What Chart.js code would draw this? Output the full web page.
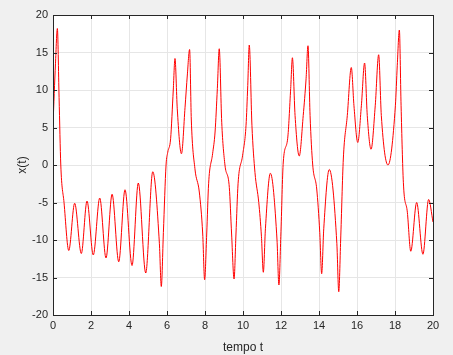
<!DOCTYPE html>
<html><head><meta charset="utf-8">
<script src="https://cdn.jsdelivr.net/npm/chart.js@4.4.0/dist/chart.umd.min.js"></script>
<style>html,body{margin:0;padding:0;background:#f0f0f0;}#wrap{width:453px;height:355px;}</style>
</head><body><div id="wrap"><canvas id="c" width="453" height="355"></canvas></div>
<script>
const times = [0,0.13,0.23,0.32,0.41,0.58,0.83,1.14,1.49,1.79,2.12,2.46,2.79,3.11,3.46,3.79,4.16,4.49,4.88,5.25,5.6,5.7,5.81,5.95,6.04,6.19,6.33,6.42,6.54,6.76,6.95,7.07,7.19,7.28,7.47,7.7,7.88,7.98,8.09,8.19,8.4,8.53,8.65,8.75,8.88,9.05,9.28,9.4,9.53,9.63,9.74,9.98,10.16,10.25,10.33,10.47,10.63,10.83,10.97,11.07,11.18,11.44,11.79,11.89,11.99,12.12,12.35,12.51,12.6,12.74,12.96,13.17,13.32,13.42,13.53,13.67,13.88,14.04,14.14,14.25,14.54,14.94,15.04,15.14,15.28,15.49,15.7,15.84,16.04,16.23,16.4,16.54,16.74,16.96,17.14,17.28,17.63,18.02,18.12,18.23,18.32,18.44,18.65,18.83,19.14,19.47,19.77,20];
const xValues = [5.3,13.5,18.2,9,0,-5,-11.4,-5.1,-11.8,-4.8,-12.0,-4.4,-12.4,-3.9,-12.9,-3.3,-13.4,-2.4,-14.4,-0.9,-10.5,-16.2,-9,0,1.7,3.5,10,14.2,7.5,1.5,7.7,12,15.4,6,-0.5,-3.6,-9.2,-15.3,-9.2,-2.5,1.5,4.4,10.2,15.5,5.7,0,-3,-9.2,-15.2,-9.2,-2.5,1.3,5.3,10.6,16.0,5.3,-1,-5,-9.5,-14.3,-8.5,-1.1,-10,-16.0,-9.5,0.4,3.5,10.2,14.3,6.6,1.2,6.6,11.5,15.9,6.6,0,-3.2,-9,-14.5,-8.5,-0.6,-10.5,-16.9,-10,0.8,6.6,13.0,7.9,3.0,7.9,13.6,6.6,2.1,7.9,14.7,6.6,0.0,7.9,13.3,18.0,7.9,-2.3,-6.3,-11.5,-5.0,-11.9,-4.6,-7.6];
const xTicks = [0,2,4,6,8,10,12,14,16,18,20];
const yTicks = [-20,-15,-10,-5,0,5,10,15,20];

const axisColor = '#262626';
const boxPlugin = {
  id:'box',
  beforeDraw(chart){
    const {ctx, chartArea:a} = chart;
    ctx.save();
    ctx.fillStyle='#ffffff';
    ctx.fillRect(a.left,a.top,a.right-a.left,a.bottom-a.top);
    ctx.restore();
  },
  afterDatasetsDraw(chart){
    const {ctx, chartArea:a, scales} = chart;
    ctx.save();
    ctx.strokeStyle=axisColor; ctx.lineWidth=1;
    ctx.beginPath();
    xTicks.forEach(v=>{const p=Math.round(scales.x.getPixelForValue(v))+0.5;
      ctx.moveTo(p,a.bottom);ctx.lineTo(p,a.bottom-4);ctx.moveTo(p,a.top);ctx.lineTo(p,a.top+4);});
    yTicks.forEach(v=>{const p=Math.round(scales.y.getPixelForValue(v))+0.5;
      ctx.moveTo(a.left,p);ctx.lineTo(a.left+4,p);ctx.moveTo(a.right,p);ctx.lineTo(a.right-4,p);});
    ctx.stroke();
    ctx.strokeRect(Math.round(a.left)+0.5,Math.round(a.top)+0.5,Math.round(a.right-a.left),Math.round(a.bottom-a.top));
    ctx.restore();
  }
};

new Chart(document.getElementById('c'),{
  type:'line',
  data:{datasets:[{data:times.map((t,i)=>({x:t,y:xValues[i]})),borderColor:'#ff0000',borderWidth:1,pointRadius:0,cubicInterpolationMode:'monotone',fill:false}]},
  options:{
    responsive:false,animation:false,
    layout:{padding:{top:15,right:20,left:15,bottom:0}},
    plugins:{legend:{display:false},tooltip:{enabled:false}},
    scales:{
      x:{type:'linear',min:0,max:20,
        afterBuildTicks(s){s.ticks=xTicks.map(v=>({value:v}));},
        afterFit(s){s.height=40;},
        grid:{color:'#e6e6e6',drawTicks:false},border:{display:false},
        ticks:{color:axisColor,font:{family:'Liberation Sans, Arial',size:11},padding:4,maxRotation:0},
        title:{display:true,text:'tempo t',color:axisColor,font:{family:'Liberation Sans, Arial',size:12},padding:{top:0,bottom:0}}},
      y:{type:'linear',min:-20,max:20,
        afterBuildTicks(s){s.ticks=yTicks.map(v=>({value:v}));},
        afterFit(s){s.width=38;},
        grid:{color:'#e6e6e6',drawTicks:false},border:{display:false},
        ticks:{color:axisColor,font:{family:'Liberation Sans, Arial',size:11},padding:5},
        title:{display:true,text:'x(t)',color:axisColor,font:{family:'Liberation Sans, Arial',size:12},padding:{top:0,bottom:0}}}
    }
  },
  plugins:[boxPlugin]
});
</script></body></html>
